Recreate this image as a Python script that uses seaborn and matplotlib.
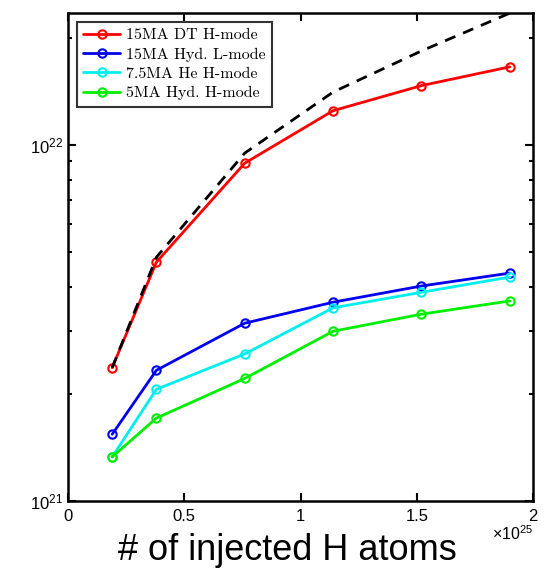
import numpy as np
import pandas as pd
import matplotlib
matplotlib.use("Agg")
import matplotlib.pyplot as plt
import seaborn as sns
from matplotlib.ticker import LogLocator, LogFormatterSciNotation, FixedLocator, FuncFormatter

sns.set_style("ticks")
plt.rcParams['font.family'] = ['Liberation Sans', 'DejaVu Sans']
plt.rcParams['mathtext.fontset'] = 'custom'
plt.rcParams['mathtext.rm'] = 'Liberation Sans'
plt.rcParams['mathtext.it'] = 'Liberation Sans:italic'
plt.rcParams['text.color'] = 'black'
plt.rcParams['axes.labelcolor'] = 'black'
plt.rcParams['xtick.color'] = 'black'
plt.rcParams['ytick.color'] = 'black'
plt.rcParams['axes.edgecolor'] = 'black'

# data (x in units of 1e25 injected H atoms)
x_atoms = [0.19, 0.38, 0.76, 1.14, 1.52, 1.9]
dt_15ma_h = [2.37e21, 4.69e21, 8.9e21, 1.25e22, 1.47e22, 1.66e22]
hyd_15ma_l = [1.54e21, 2.33e21, 3.16e21, 3.62e21, 4.02e21, 4.37e21]
he_75ma_h = [1.33e21, 2.06e21, 2.59e21, 3.49e21, 3.86e21, 4.26e21]
hyd_5ma_h = [1.33e21, 1.71e21, 2.21e21, 3.0e21, 3.35e21, 3.65e21]
dashed_ref = [2.37e21, 4.84e21, 9.5e21, 1.41e22, 1.84e22, 2.35e22]

series_names = ["15MA DT H-mode", "15MA Hyd. L-mode", "7.5MA He H-mode", "5MA Hyd. H-mode"]
series_vals = [dt_15ma_h, hyd_15ma_l, he_75ma_h, hyd_5ma_h]
colors = ["#ff0000", "#0000ee", "#00eeee", "#00ee00"]

x_ticks = [0, 0.5, 1, 1.5, 2]

fig = plt.figure(figsize=(5.44, 5.70), dpi=100)
ax = fig.add_axes([0.125, 0.121, 0.855, 0.856])

for name, vals, c in zip(series_names, series_vals, colors):
    df = pd.DataFrame({"x": x_atoms, "y": vals})
    sns.lineplot(data=df, x="x", y="y", ax=ax, color=c, lw=2, marker="o",
                 markersize=6, markerfacecolor="none", markeredgecolor=c,
                 markeredgewidth=1.5, label=name)

dfd = pd.DataFrame({"x": x_atoms, "y": dashed_ref})
sns.lineplot(data=dfd, x="x", y="y", ax=ax, color="black", lw=2,
             linestyle=(0, (4, 3)), legend=False)

ax.set_yscale("log")
ax.set_xlim(0, 2)
ax.set_ylim(1e21, 2.35e22)
ax.xaxis.set_major_locator(FixedLocator(x_ticks))
ax.xaxis.set_major_formatter(FuncFormatter(lambda v, p: f"{v:g}"))
ax.yaxis.set_major_locator(LogLocator(base=10))
ax.yaxis.set_minor_locator(LogLocator(base=10, subs=np.arange(2, 10)))
ax.yaxis.set_major_formatter(LogFormatterSciNotation())
ax.yaxis.set_minor_formatter(FuncFormatter(lambda v, p: ""))

ax.tick_params(axis="both", which="both", direction="in", top=True, right=True,
               labelsize=12, width=1.5, color="black", labelcolor="black")
ax.tick_params(axis="both", which="major", length=6)
ax.tick_params(axis="both", which="minor", length=3)
ax.tick_params(axis="x", pad=6)
for s in ax.spines.values():
    s.set_linewidth(1.8)
    s.set_color("black")
    s.set_visible(True)

ax.set_xlabel("# of injected H atoms", fontsize=26, color="black")
ax.xaxis.label.set_va("baseline")
ax.xaxis.set_label_coords(0.472, -0.121)
ax.set_ylabel("")
ax.text(1.0, -0.08, r"$\times10^{25}$", transform=ax.transAxes, ha="right",
        va="baseline", fontsize=11.5, color="black")

leg = ax.legend(loc="upper left", prop={"family": "cmr10", "size": 11.5},
                frameon=True, fancybox=False, edgecolor="black",
                borderaxespad=0.55, handlelength=2.3, handletextpad=0.35,
                labelspacing=0.32, borderpad=0.4)
leg.get_frame().set_linewidth(1.5)
for t in leg.get_texts():
    t.set_color("black")

fig.savefig("out.png", dpi=100, facecolor="white")
